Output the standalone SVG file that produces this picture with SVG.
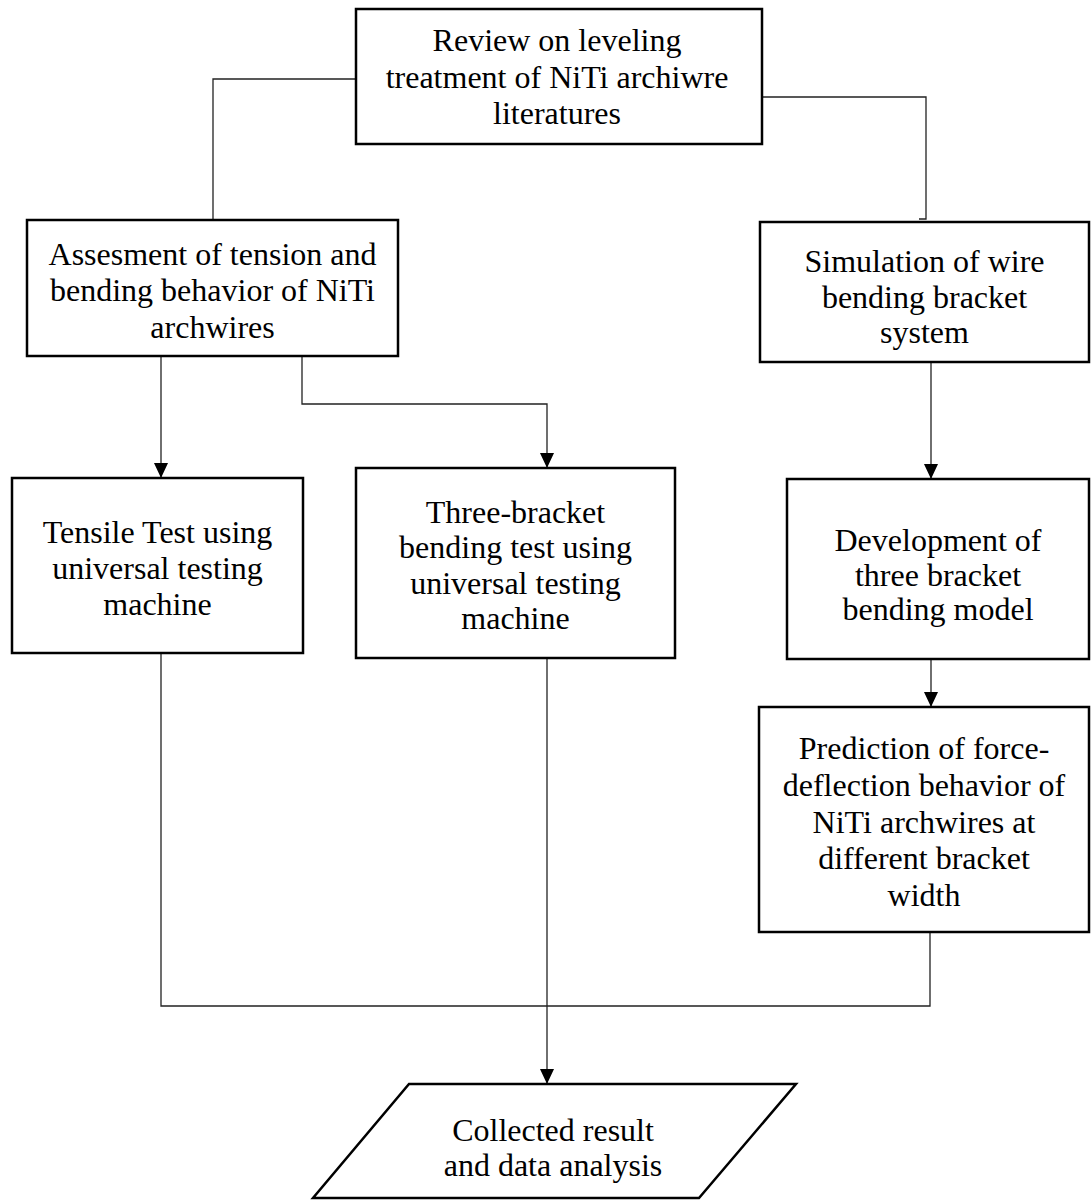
<svg xmlns="http://www.w3.org/2000/svg" width="1091" height="1201" viewBox="0 0 1091 1201">
<style>
.box{fill:#fff;stroke:#000;stroke-width:2.5}
.t{font-family:"Liberation Serif","Times New Roman",serif;font-size:32px;fill:#000;text-anchor:middle}
.c{fill:none;stroke:#222;stroke-width:1.3}
</style>
<defs>
<marker id="arr" viewBox="0 0 15 14" refX="15" refY="7" markerWidth="15" markerHeight="14" markerUnits="userSpaceOnUse" orient="auto">
<path d="M0,0 L15,7 L0,14 z" fill="#000"/>
</marker>
</defs>
<rect width="1091" height="1201" fill="#fff"/>
<g id="connectors">
<path class="c" d="M356,79 H213 V220"/>
<path class="c" d="M762,97 H926 V219 H919"/>
<path class="c" d="M161,356 V478" marker-end="url(#arr)"/>
<path class="c" d="M302,356 V404 H547 V468" marker-end="url(#arr)"/>
<path class="c" d="M931,362 V479" marker-end="url(#arr)"/>
<path class="c" d="M931,659 V707" marker-end="url(#arr)"/>
<path class="c" d="M161,653 V1006 H930 V932"/>
<path class="c" d="M547,658 V1084" marker-end="url(#arr)"/>
</g>
<g id="review">
<rect class="box" x="356" y="9" width="406" height="135"/>
<text class="t" x="557"><tspan x="557" y="51">Review on leveling</tspan><tspan x="557" y="88">treatment of NiTi archiwre</tspan><tspan x="557" y="124">literatures</tspan></text>
</g>
<g id="assessment">
<rect class="box" x="27" y="220" width="371" height="136"/>
<text class="t"><tspan x="212.5" y="265">Assesment of tension and</tspan><tspan x="212.5" y="301">bending behavior of NiTi</tspan><tspan x="212.5" y="338">archwires</tspan></text>
</g>
<g id="simulation">
<rect class="box" x="760" y="222" width="329" height="140"/>
<text class="t"><tspan x="924.5" y="272">Simulation of wire</tspan><tspan x="924.5" y="308">bending bracket</tspan><tspan x="924.5" y="343">system</tspan></text>
</g>
<g id="tensile">
<rect class="box" x="12" y="478" width="291" height="175"/>
<text class="t"><tspan x="157.5" y="543">Tensile Test using</tspan><tspan x="157.5" y="579">universal testing</tspan><tspan x="157.5" y="615">machine</tspan></text>
</g>
<g id="threebracket">
<rect class="box" x="356" y="468" width="319" height="190"/>
<text class="t"><tspan x="515.5" y="523">Three-bracket</tspan><tspan x="515.5" y="558">bending test using</tspan><tspan x="515.5" y="594">universal testing</tspan><tspan x="515.5" y="629">machine</tspan></text>
</g>
<g id="development">
<rect class="box" x="787" y="479" width="302" height="180"/>
<text class="t"><tspan x="938" y="551">Development of</tspan><tspan x="938" y="586">three bracket</tspan><tspan x="938" y="620">bending model</tspan></text>
</g>
<g id="prediction">
<rect class="box" x="759" y="707" width="330" height="225"/>
<text class="t"><tspan x="924" y="759">Prediction of force-</tspan><tspan x="924" y="796">deflection behavior of</tspan><tspan x="924" y="833">NiTi archwires at</tspan><tspan x="924" y="869">different bracket</tspan><tspan x="924" y="906">width</tspan></text>
</g>
<g id="collected">
<polygon class="box" points="409,1084 796,1084 699,1198 313,1198"/>
<text class="t"><tspan x="553" y="1141">Collected result</tspan><tspan x="553" y="1176">and data analysis</tspan></text>
</g>
</svg>
